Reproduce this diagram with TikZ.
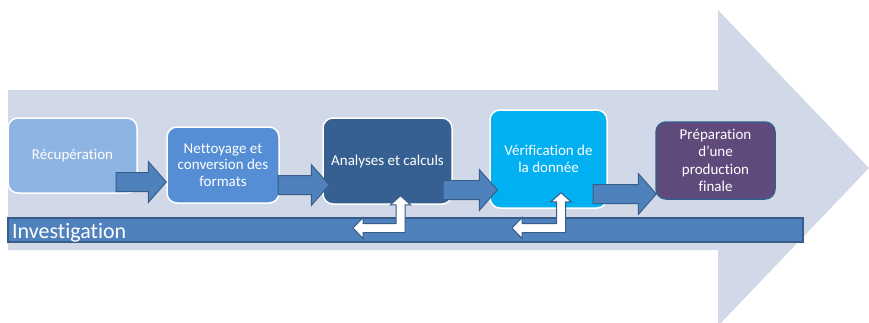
\documentclass[tikz,border=0pt]{standalone}
\usepackage{fontspec}
\setmainfont[Ligatures=NoCommon]{Carlito}
\usetikzlibrary{calc}

\definecolor{bgarrow}{HTML}{D1D9E8}
\definecolor{recblue}{HTML}{8EB4E3}
\definecolor{nettblue}{HTML}{558ED5}
\definecolor{anablue}{HTML}{376092}
\definecolor{verifblue}{HTML}{00B0F0}
\definecolor{prepviolet}{HTML}{604A7B}
\definecolor{stepblue}{HTML}{4F81BD}
\definecolor{stepedge}{HTML}{385D8A}

\begin{document}
\begin{tikzpicture}[x=1pt,y=-1pt,
    box/.style={rectangle,rounded corners=10pt,draw=white,line width=1.5pt,
      text=white,align=center,inner sep=2pt,font=\fontsize{15}{16.5}\selectfont},
    fatarrow/.style={fill=stepblue,draw=stepedge,line width=1pt,
      to path={let \p1=(\tikztostart), \p2=(\tikztotarget) in
        (\x1,{\y1+9.5}) -- ({\x2-18},{\y1+9.5}) -- ({\x2-18},{\y1+20.5}) -- (\x2,\y1)
        -- ({\x2-18},{\y1-20.5}) -- ({\x2-18},{\y1-9.5}) -- (\x1,{\y1-9.5}) -- cycle}},
    backarrow/.style={fill=white,draw=stepedge,line width=1pt,
      to path={let \p1=(\tikztostart), \p2=(\tikztotarget) in
        (\x1,\y1) -- ({\x1+10},{\y1+10.5}) -- ({\x1+10},{\y1+4.5}) -- ({\x2-4.5},{\y1+4.5})
        -- ({\x2-4.5},{\y2-9}) -- ({\x2-10},{\y2-9}) -- (\x2,\y2) -- ({\x2+10},{\y2-9})
        -- ({\x2+4.5},{\y2-9}) -- ({\x2+4.5},{\y1-4.5}) -- ({\x1+10},{\y1-4.5})
        -- ({\x1+10},{\y1-10.5}) -- cycle}}]

    \useasboundingbox (0,0) rectangle (869,322);

    % big background arrow
    \fill[bgarrow] (8,90) -- (718,90) -- (718,10) -- (869,168) -- (718,326)
      -- (718,250) -- (8,250) -- cycle;

    % investigation bar
    \node[rectangle,fill=stepblue,draw=stepedge,line width=1.5pt,
      minimum width=795pt,minimum height=24pt] (inv) at (405.5,230) {};
    \node[anchor=base west,inner sep=0pt,text=white,font=\fontsize{22}{24}\selectfont]
      (invlabel) at (12,238) {Investigation};

    % steps
    \node[box,fill=recblue,minimum width=129pt,minimum height=75pt] (rec) at (72.5,155.5) {Récupération};
    \node[box,fill=nettblue,minimum width=112pt,minimum height=76pt] (nett) at (223,165)
      {Nettoyage et\\conversion des\\formats};
    \node[box,fill=anablue,minimum width=129pt,minimum height=86pt] (ana) at (387.5,161)
      {Analyses et calculs};
    \node[box,fill=verifblue,minimum width=117pt,minimum height=98pt] (verif) at (548.5,159)
      {Vérification de\\la donnée};
    \node[box,fill=prepviolet,draw=stepedge,minimum width=119pt,minimum height=77pt,
      font=\fontsize{15}{17.5}\selectfont] (prep) at (715.5,160.5)
      {Préparation\\d’une\\production\\finale};

    % arrows between steps
    \coordinate (a1) at (116,182);
    \coordinate (a2) at (278,185);
    \coordinate (a3) at (443,190);
    \coordinate (a4) at (593,194);
    \draw[fatarrow] (a1) to (nett.west |- a1);
    \draw[fatarrow] (a2) to ([xshift=7pt]ana.west |- a2);
    \draw[fatarrow] (a3) to ([xshift=8pt]verif.west |- a3);
    \draw[fatarrow] (a4) to ([xshift=1pt]prep.west |- a4);

    % return arrows to the investigation
    \coordinate (r1) at (353,228);
    \coordinate (r2) at (512,228);
    \draw[backarrow] (r1) to ($(ana.south)+(13,-9)$);
    \draw[backarrow] (r2) to ($(verif.south)+(12.5,-16)$);

\end{tikzpicture}
\end{document}
